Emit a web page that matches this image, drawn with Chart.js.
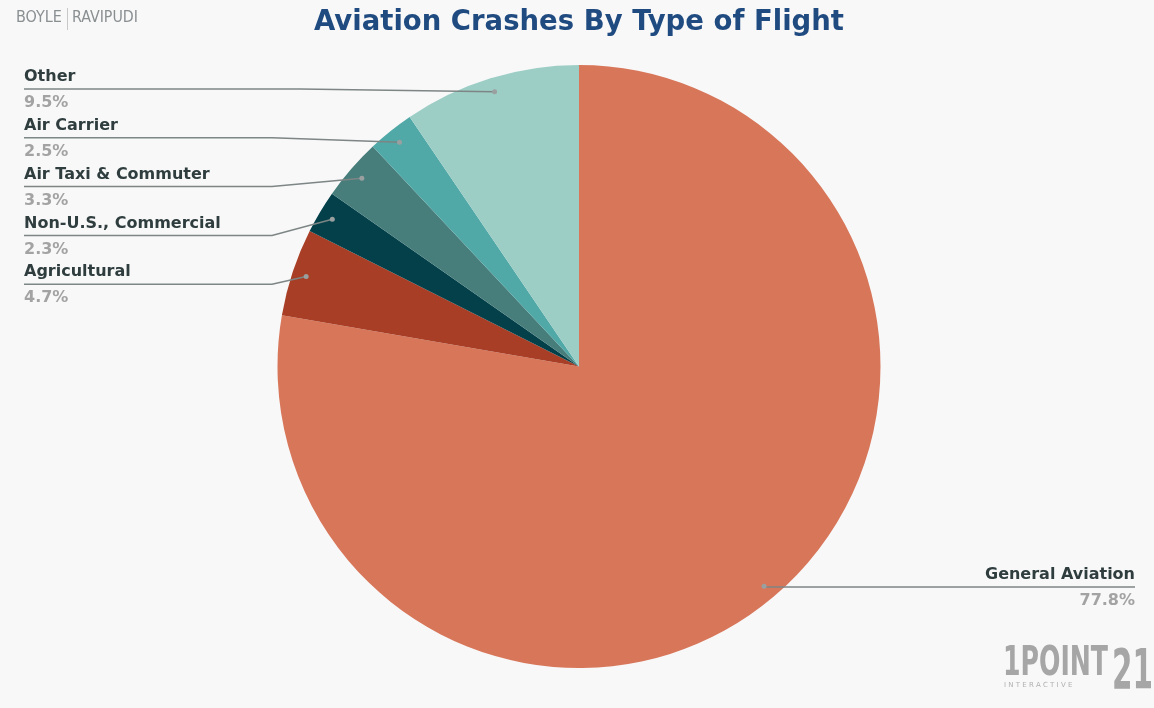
<!DOCTYPE html>
<html>
<head>
<meta charset="utf-8">
<script src="https://cdn.jsdelivr.net/npm/chart.js@4"></script>
<style>
  html, body { margin: 0; padding: 0; background: #f8f8f8; }
  #wrap { width: 1154px; height: 708px; position: relative; }
</style>
</head>
<body>
<div id="wrap"><canvas id="chart"></canvas></div>
<script>
const categories = ['General Aviation', 'Agricultural', 'Non-U.S., Commercial', 'Air Taxi & Commuter', 'Air Carrier', 'Other'];
const shares = [77.8, 4.7, 2.3, 3.3, 2.5, 9.5];
const sliceColors = ['#d8765a', '#a83e25', '#03404a', '#477e7c', '#50a8a7', '#9dcec6'];

// leader lines + labels, drawn after the pie
const calloutPlugin = {
    id: 'callouts',
    afterDraw(chart) {
        const ctx = chart.ctx;
        const arcs = chart.getDatasetMeta(0).data;
        ctx.save();
        arcs.forEach((arc, i) => {
            const mid = (arc.startAngle + arc.endAngle) / 2;
            const r = arc.outerRadius * 0.953;
            const px = arc.x + Math.cos(mid) * r;
            const py = arc.y + Math.sin(mid) * r;
            let nameY, lineY, textX, align, bendX, endX;
            if (i === 0) {
                nameY = 575; lineY = 587; textX = 1135; align = 'right';
                bendX = px; endX = 1135;
            } else {
                const slot = arcs.length - 1 - i;
                nameY = 77 + slot * 48.8; lineY = nameY + 12; textX = 24; align = 'left';
                bendX = slot === 0 ? 300 : 272; endX = 24;
            }
            ctx.strokeStyle = '#7d8585';
            ctx.lineWidth = 1.5;
            ctx.beginPath();
            ctx.moveTo(px, py);
            ctx.lineTo(bendX, lineY);
            ctx.lineTo(endX, lineY);
            ctx.stroke();
            ctx.fillStyle = '#9aa0a0';
            ctx.beginPath();
            ctx.arc(px, py, 2.5, 0, Math.PI * 2);
            ctx.fill();

            ctx.textAlign = align;
            ctx.textBaseline = 'middle';
            ctx.font = 'bold 16px "DejaVu Sans"';
            ctx.fillStyle = '#2f3d3e';
            ctx.fillText(categories[i], textX, nameY);
            ctx.fillStyle = '#a3a3a3';
            ctx.fillText(shares[i].toFixed(1) + '%', textX, lineY + 14);
        });

        // brand marks
        ctx.textAlign = 'left';
        ctx.textBaseline = 'middle';
        ctx.font = '16px "Liberation Sans Narrow", "DejaVu Sans Condensed", sans-serif';
        ctx.fillStyle = '#8a8f92';
        ctx.fillText('BOYLE', 16, 18, 48);
        ctx.fillText('RAVIPUDI', 72, 18, 66);
        ctx.fillStyle = '#c8c8c8';
        ctx.fillRect(67, 8, 1, 22);

        ctx.fillStyle = '#a6a6a6';
        ctx.textAlign = 'left';
        ctx.textBaseline = 'alphabetic';
        ctx.font = 'bold 40px "DejaVu Sans Condensed", sans-serif';
        ctx.fillText('1POINT', 1003, 675, 105);
        ctx.font = 'bold 56px "DejaVu Sans Condensed", sans-serif';
        ctx.fillText('21', 1112, 688, 41);
        ctx.font = '7px "DejaVu Sans"';
        ctx.fillStyle = '#b0b0b0';
        ctx.fillText('I N T E R A C T I V E', 1004, 687, 104);
        ctx.restore();
    }
};

const chart = new Chart(document.getElementById('chart'), {
    type: 'pie',
    data: {
        labels: categories,
        datasets: [{
            data: shares,
            backgroundColor: sliceColors,
            borderWidth: 0,
        }],
    },
    options: {
        responsive: true,
        maintainAspectRatio: false,
        animation: false,
        layout: { padding: { top: 0, bottom: 40, left: 4, right: 0 } },
        plugins: {
            legend: { display: false },
            tooltip: { enabled: false },
            title: {
                display: true,
                text: 'Aviation Crashes By Type of Flight',
                color: '#1f4b80',
                font: { family: '"DejaVu Sans"', size: 27.5, weight: 'bold' },
                padding: { top: 6, bottom: 26 },
            },
        },
    },
    plugins: [calloutPlugin],
});
</script>
</body>
</html>
